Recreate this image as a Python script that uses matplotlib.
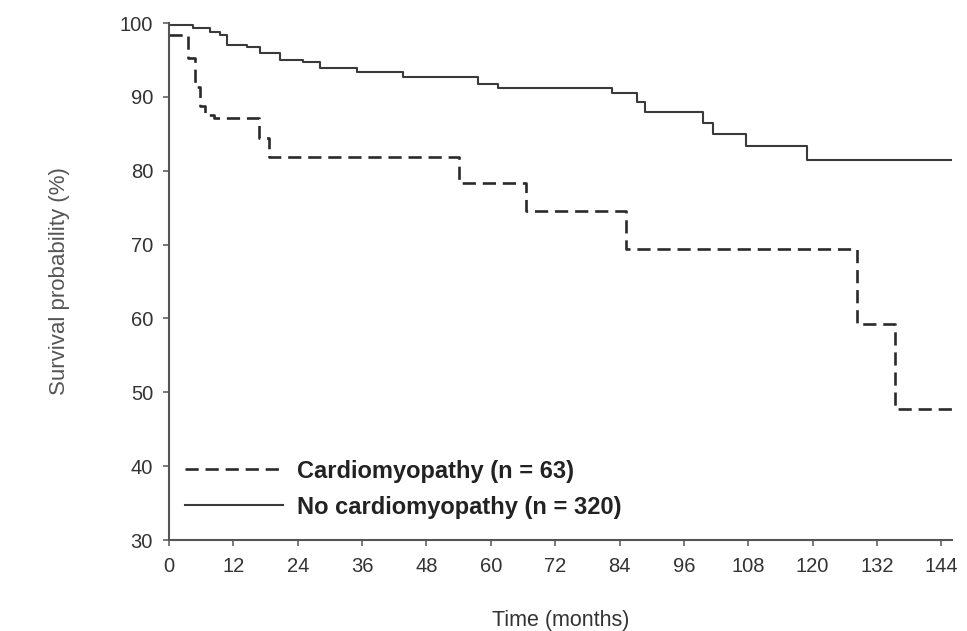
import matplotlib.pyplot as plt

# Kaplan-Meier survival, cardiomyopathy vs no cardiomyopathy

# data
months_cm = [0, 3.6, 4.9, 5.8, 6.7, 8.3, 16.8, 18.6, 54.0, 66.5, 85.3, 128.3, 135.4, 146]
surv_cm = [98.4, 95.2, 91.4, 88.7, 87.6, 87.1, 84.5, 81.9, 78.3, 74.6, 69.4, 59.3, 47.7, 47.7]

months_no = [0, 4.5, 7.6, 9.5, 10.8, 14.5, 17.0, 20.7, 25.0, 28.2, 35.0, 43.7,
             57.6, 61.4, 82.6, 87.3, 88.8, 99.6, 101.5, 107.5, 119.0, 146]
surv_no = [99.7, 99.3, 98.8, 98.4, 97.0, 96.8, 95.9, 95.0, 94.7, 93.9, 93.4, 92.7,
           91.8, 91.2, 90.5, 89.3, 88.0, 86.4, 85.0, 83.4, 81.4, 81.4]

xticks = list(range(0, 145, 12))
yticks = list(range(30, 101, 10))

label_cm = 'Cardiomyopathy (n = 63)'
label_no = 'No cardiomyopathy (n = 320)'

plt.rcParams['font.family'] = ['Liberation Sans', 'DejaVu Sans']

fig = plt.figure(figsize=(9.67, 6.31), dpi=100)
ax = fig.add_axes([0.1748, 0.1442, 0.8097, 0.8193])

ax.plot(months_cm, surv_cm, drawstyle='steps-post', color='#2a2a2a', lw=1.9,
        dashes=(5.0, 2.6), label=label_cm)
ax.plot(months_no, surv_no, drawstyle='steps-post', color='#3a3a3a', lw=1.5,
        label=label_no)

ax.set_xlim(0, 146)
ax.set_ylim(30, 100)
ax.set_xticks(xticks)
ax.set_yticks(yticks)

for side in ['top', 'right']:
    ax.spines[side].set_visible(False)
for side in ['left', 'bottom']:
    ax.spines[side].set_color('#555555')
    ax.spines[side].set_linewidth(1.5)

ax.tick_params(axis='both', direction='out', length=4.5, width=1.1,
               color='#555555', labelsize=14.5, labelcolor='#333333')
ax.tick_params(axis='y', pad=7)
ax.tick_params(axis='x', pad=8)

ax.set_xlabel('Time (months)', fontsize=15.5, color='#333333')
ax.set_ylabel('Survival probability (%)', fontsize=16, color='#555555')
ax.xaxis.set_label_coords(0.5, -0.135)
ax.yaxis.set_label_coords(-0.127, 0.5)

leg = ax.legend(loc='center left', bbox_to_anchor=(0.0204, 0.0986),
                frameon=False, borderpad=0, borderaxespad=0,
                handlelength=4.15, handletextpad=0.6, labelspacing=0.55,
                prop={'size': 17, 'weight': 'bold'})
for t in leg.get_texts():
    t.set_color('#222222')

plt.savefig('out.png', dpi=100)
